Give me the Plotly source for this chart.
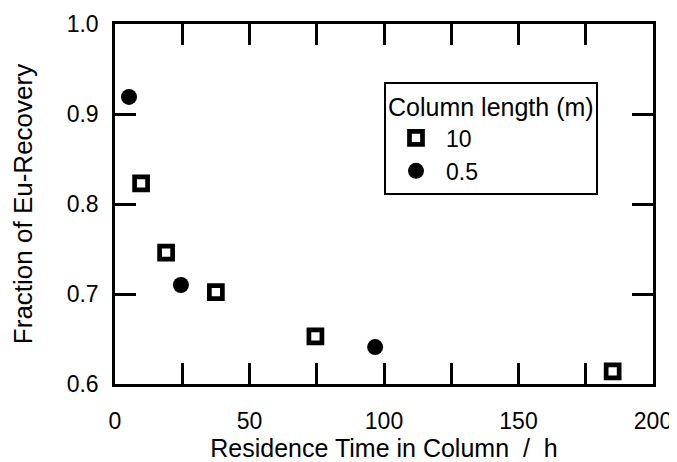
import plotly.graph_objects as go

# Data
len10_time = [9.7, 19.0, 37.5, 74.5, 185.0]
len10_recovery = [0.823, 0.746, 0.702, 0.653, 0.614]
len05_time = [5.2, 24.5, 96.7]
len05_recovery = [0.919, 0.710, 0.641]

series_names = ["10", "0.5"]
legend_title = "Column length (m)"
x_title = "Residence Time in Column\u00a0\u00a0/\u00a0\u00a0h"
y_title = "Fraction of Eu-Recovery\u00a0\u00a0\u00a0"

FONT = "Liberation Sans, Arial, Helvetica, sans-serif"

fig = go.Figure()
fig.add_trace(go.Scatter(
    x=len10_time, y=len10_recovery, mode="markers", name=series_names[0],
    marker=dict(symbol="square-open", size=13, color="black",
                line=dict(width=4.7, color="black")),
))
fig.add_trace(go.Scatter(
    x=len05_time, y=len05_recovery, mode="markers", name=series_names[1],
    marker=dict(symbol="circle", size=16, color="black",
                line=dict(width=0)),
))

axis_common = dict(
    showline=True, linecolor="black", linewidth=2.5, mirror="ticks",
    ticks="inside", ticklen=21, tickwidth=2.5, tickcolor="black",
    showgrid=False, zeroline=False, automargin=False,
    tickfont=dict(family=FONT, size=23, color="black"),
)

fig.update_xaxes(
    range=[0, 200], dtick=50, tick0=0,
    minor=dict(dtick=25, ticks="inside", ticklen=21, tickwidth=2.5, tickcolor="black", showgrid=False),
    ticklabelstandoff=15,
    title=dict(text=x_title, font=dict(family=FONT, size=25, color="black"), standoff=21),
    **axis_common,
)
fig.update_yaxes(
    range=[0.6, 1.0], dtick=0.1, tick0=0.6, tickformat=".1f",
    ticklabelstandoff=9,
    title=dict(text=y_title, font=dict(family=FONT, size=26, color="black"), standoff=42),
    **axis_common,
)

# The page body offsets the figure by 8 px, so the figure is 8 px smaller
# and the left/top margins are reduced to keep the plot area in place.
fig.update_layout(
    width=669, height=454,
    margin=dict(l=107, r=24, t=16, b=78),
    paper_bgcolor="white", plot_bgcolor="white",
    font=dict(family=FONT, size=23, color="black"),
    showlegend=True,
    legend=dict(
        x=0.5, y=0.839, xanchor="left", yanchor="top",
        bordercolor="black", borderwidth=2, bgcolor="white",
        title=dict(text=legend_title, font=dict(family=FONT, size=25, color="black")),
        font=dict(family=FONT, size=23, color="black"),
        itemsizing="trace", tracegroupgap=0, itemwidth=50,
    ),
)

fig.write_html("out.html")
